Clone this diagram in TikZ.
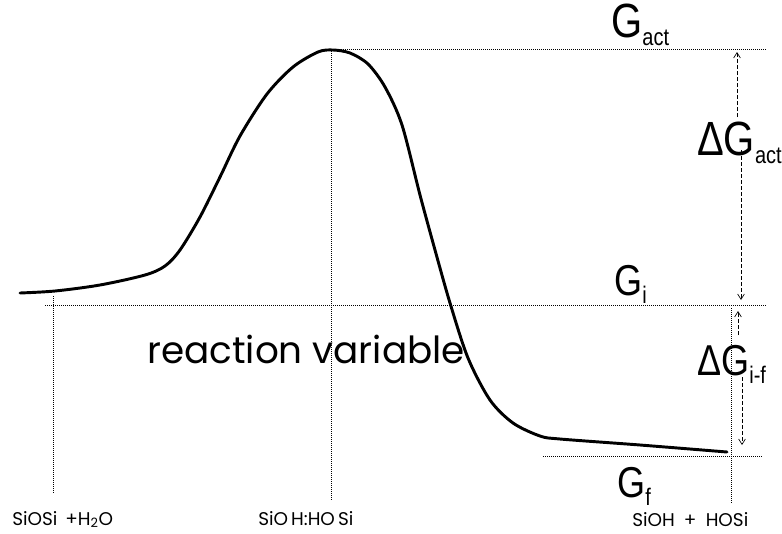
\documentclass[tikz,border=0pt]{standalone}
\usepackage{fontspec}
\usepackage{graphicx}
\setmainfont{Liberation Sans}
\newfontfamily\geofont{Poppins}
\usetikzlibrary{positioning, arrows.meta}

\newcommand\lowsub[1]{\raisebox{-5pt}{\fontsize{15}{15}\selectfont #1}}
\newcommand\tallg[1]{\scalebox{1}[1.2]{#1}}

\begin{document}
\begin{tikzpicture}[x=0.75pt, y=-0.75pt,
  curve/.style={line width=2.2pt, line cap=round, line join=round},
  level/.style={densely dotted, line width=0.5pt},
  gap/.style={dash pattern=on 3pt off 1.5pt, line width=0.5pt,
              -{Straight Barb[length=4pt, width=5pt]}},
  big/.style={anchor=base west, inner sep=0pt, font=\fontsize{30}{30}\selectfont},
  mid/.style={anchor=base west, inner sep=0pt, font=\fontsize{27}{27}\selectfont},
  var/.style={anchor=base west, inner sep=0pt, font=\geofont\fontsize{28}{28}\selectfont},
  spc/.style={anchor=base west, inner sep=0pt, font=\geofont\fontsize{13.8}{14}\selectfont}]
  \useasboundingbox (0,0) rectangle (782,533);

  \coordinate (ts) at (331,49);
  \coordinate (actR) at (767,49);
  \coordinate (iL) at (45,305);
  \coordinate (iR) at (767,305);
  \coordinate (fL) at (543,456);
  \coordinate (fR) at (763,456);
  \coordinate (startT) at (53,296);
  \coordinate (startB) at (53,494);
  \coordinate (tsB) at (331,500);
  \coordinate (endT) at (731,308);
  \coordinate (endB) at (731,503);

  \draw[level] (ts) -- (actR);
  \draw[level] (iL) -- (iR);
  \draw[level] (fL) -- (fR);
  \draw[level] (startT) -- (startB);
  \draw[level] (ts) -- (tsB);
  \draw[level] (endT) -- (endB);

  \draw[curve] plot[smooth, tension=0.5] coordinates {(20,293) (55,291) (100,285)
    (145,275) (165,266) (180,250) (200,217) (220,177) (240,136) (267,94) (293,67)
    (318,52) (333,50) (350,53) (368,64) (385,87) (402,125) (420,195) (435,250)
    (450,303) (468,358) (490,400) (513,423) (540,436) (560,439) (640,445) (727,452)};

  \node[big] (gact) at (611,37) {\tallg{G\lowsub{act}}};
  \node[big] (dgact) at (697,155) {\tallg{ΔG\lowsub{act}}};
  \node[mid] (gi) at (614,295) {\tallg{G\lowsub{i}}};
  \node[mid] (dgif) at (697,375) {\tallg{ΔG\lowsub{i-f}}};
  \node[mid] (gf) at (617,497) {\tallg{G\lowsub{f}}};
  \node[var] (rv) at (147,363) {reaction variable};
  \node[spc] (react) at (12,525) {SiOSi\, +H\textsubscript{2}O};
  \node[spc] (trans) at (258,525) {SiO\,H:HO\,Si};
  \node[spc] (prod) at (632,526) {SiOH\enspace+\enspace HOSi};

  \coordinate (a1) at (737,117);
  \coordinate (a1t) at (737,52);
  \coordinate (a2) at (741,150);
  \coordinate (a2t) at (741,300);
  \coordinate (b1) at (738,335);
  \coordinate (b1t) at (738,311);
  \coordinate (b2) at (742,377);
  \coordinate (b2t) at (742,445);
  \draw[gap] (a1) -- (a1t);
  \draw[gap] (a2) -- (a2t);
  \draw[gap] (b1) -- (b1t);
  \draw[gap] (b2) -- (b2t);
\end{tikzpicture}
\end{document}
